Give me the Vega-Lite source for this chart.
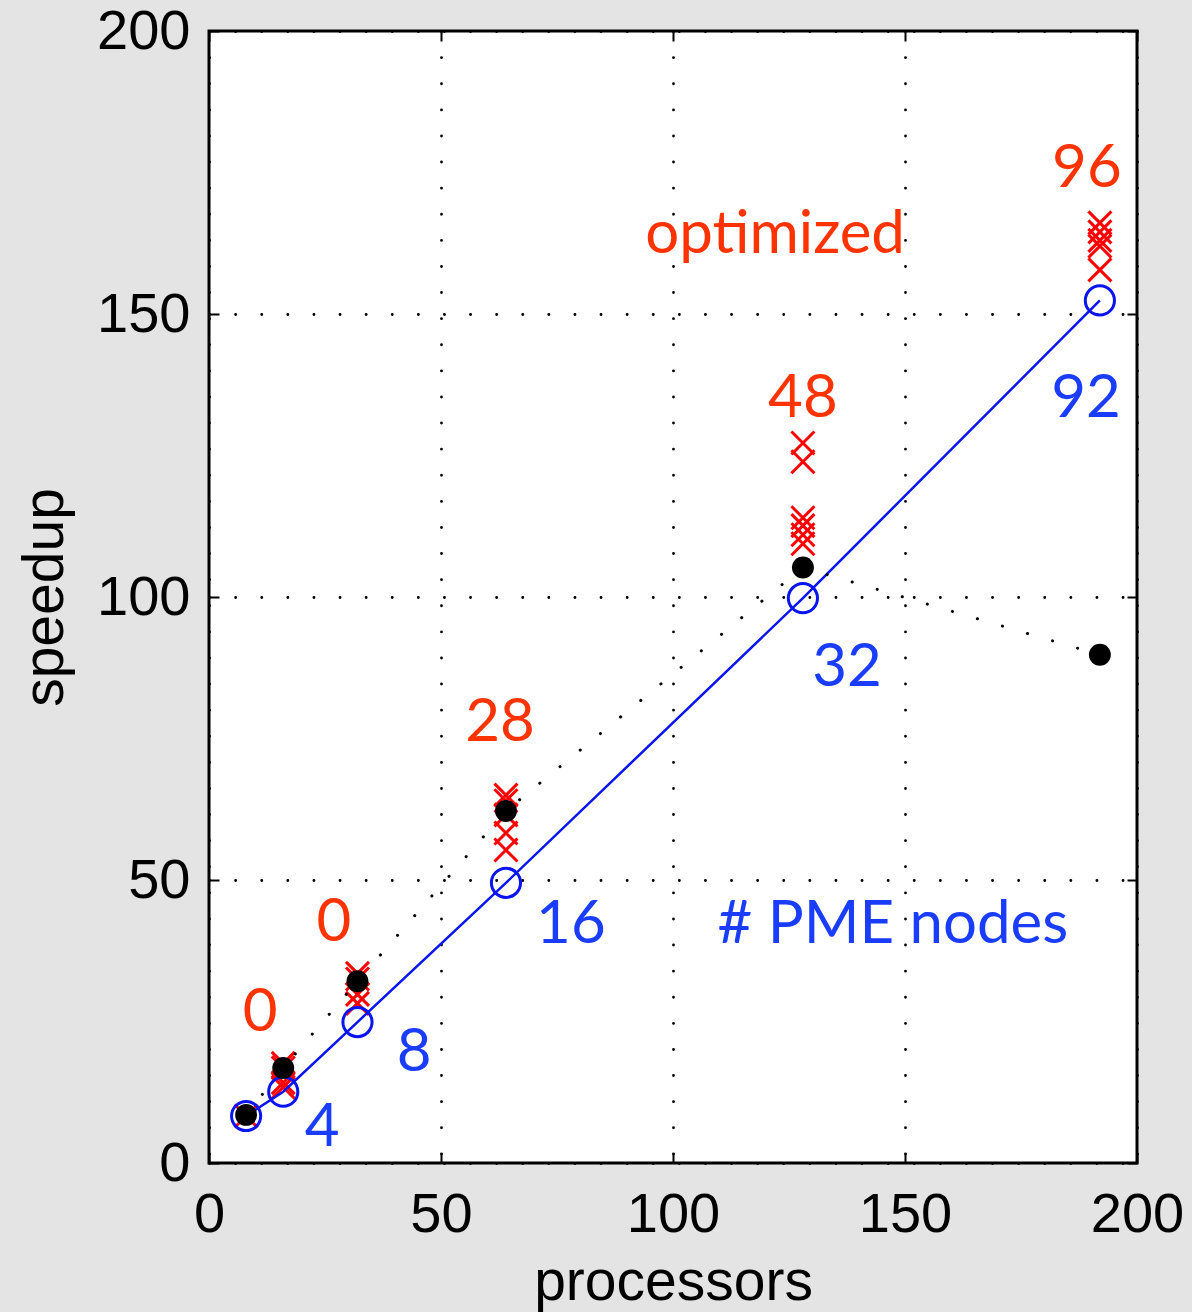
{
  "$schema": "https://vega.github.io/schema/vega-lite/v6.json",
  "width": 928,
  "height": 1132,
  "autosize": "none",
  "padding": {"left": 209, "top": 31, "right": 55, "bottom": 149},
  "background": "#e4e4e4",
  "config": {
    "view": {"fill": "#ffffff", "stroke": "#000000", "strokeWidth": 3},
    "axis": {
      "labelFont": "Liberation Sans",
      "labelFontSize": 56,
      "labelColor": "#000000",
      "titleFont": "Liberation Sans",
      "titleFontSize": 57,
      "titleFontWeight": "normal",
      "titleColor": "#000000",
      "domain": false,
      "tickColor": "#000000",
      "tickWidth": 2,
      "tickSize": -10,
      "gridColor": "#000000",
      "gridWidth": 2.8,
      "gridOpacity": 1,
      "gridDash": [0.1, 26],
      "gridCap": "round"
    }
  },
  "datasets": {
    "measured": [
      {"processors": 8, "speedup": 8.5},
      {"processors": 16, "speedup": 16.8},
      {"processors": 32, "speedup": 32.1},
      {"processors": 64, "speedup": 62.2},
      {"processors": 128, "speedup": 105.2},
      {"processors": 192, "speedup": 89.8}
    ],
    "pme": [
      {"processors": 8, "speedup": 8.3},
      {"processors": 16, "speedup": 12.6},
      {"processors": 32, "speedup": 24.9},
      {"processors": 64, "speedup": 49.5},
      {"processors": 128, "speedup": 99.8},
      {"processors": 192, "speedup": 152.4}
    ],
    "optimized": [
      {"processors": 8, "speedup": 8.3},
      {"processors": 16, "speedup": 17.6},
      {"processors": 16, "speedup": 16.8},
      {"processors": 16, "speedup": 14.2},
      {"processors": 16, "speedup": 13.4},
      {"processors": 32, "speedup": 33.5},
      {"processors": 32, "speedup": 32.5},
      {"processors": 32, "speedup": 29.8},
      {"processors": 32, "speedup": 28.2},
      {"processors": 64, "speedup": 65.0},
      {"processors": 64, "speedup": 64.0},
      {"processors": 64, "speedup": 61.5},
      {"processors": 64, "speedup": 58.3},
      {"processors": 64, "speedup": 55.3},
      {"processors": 128, "speedup": 127.2},
      {"processors": 128, "speedup": 123.9},
      {"processors": 128, "speedup": 114.0},
      {"processors": 128, "speedup": 112.6},
      {"processors": 128, "speedup": 111.0},
      {"processors": 128, "speedup": 109.4},
      {"processors": 192, "speedup": 166.1},
      {"processors": 192, "speedup": 164.5},
      {"processors": 192, "speedup": 163.0},
      {"processors": 192, "speedup": 162.0},
      {"processors": 192, "speedup": 157.8}
    ],
    "labels": [
      {"processors": 189.2, "speedup": 172.4, "text": "96", "group": "optimized"},
      {"processors": 122.0, "speedup": 160.8, "text": "optimized", "group": "optimized"},
      {"processors": 128.0, "speedup": 131.8, "text": "48", "group": "optimized"},
      {"processors": 62.7, "speedup": 74.6, "text": "28", "group": "optimized"},
      {"processors": 26.9, "speedup": 39.2, "text": "0", "group": "optimized"},
      {"processors": 11.0, "speedup": 23.3, "text": "0", "group": "optimized"},
      {"processors": 189.0, "speedup": 131.8, "text": "92", "group": "pme"},
      {"processors": 137.5, "speedup": 84.3, "text": "32", "group": "pme"},
      {"processors": 78.0, "speedup": 38.9, "text": "16", "group": "pme"},
      {"processors": 147.4, "speedup": 38.9, "text": "# PME nodes", "group": "pme"},
      {"processors": 44.2, "speedup": 16.3, "text": "8", "group": "pme"},
      {"processors": 24.4, "speedup": 3.0, "text": "4", "group": "pme"}
    ]
  },
  "resolve": {"axis": {"x": "independent", "y": "independent"}},
  "layer": [
    {
      "data": {"name": "optimized"},
      "mark": {"type": "point", "shape": "M-1,-1L1,1M-1,1L1,-1", "filled": false, "stroke": "#ff0000", "strokeWidth": 3, "size": 529, "opacity": 1},
      "encoding": {
        "x": {"field": "processors", "type": "quantitative", "scale": {"domain": [0, 200], "nice": false, "zero": false},
          "axis": {"orient": "bottom", "values": [0, 50, 100, 150, 200], "grid": true, "labelPadding": 34, "labelFlush": false, "title": "processors", "titlePadding": 12}},
        "y": {"field": "speedup", "type": "quantitative", "scale": {"domain": [0, 200], "nice": false, "zero": false},
          "axis": {"orient": "left", "values": [0, 50, 100, 150, 200], "grid": true, "labelPadding": 29, "labelFlush": false, "title": "speedup", "titlePadding": 22}}
      }
    },
    {
      "data": {"name": "pme"},
      "mark": {"type": "line", "color": "#0a14ee", "strokeWidth": 2.5},
      "encoding": {
        "x": {"field": "processors", "type": "quantitative",
          "axis": {"orient": "top", "values": [0, 50, 100, 150, 200], "labels": false, "grid": false, "title": null}},
        "y": {"field": "speedup", "type": "quantitative",
          "axis": {"orient": "right", "values": [0, 50, 100, 150, 200], "labels": false, "grid": false, "title": null}}
      }
    },
    {
      "data": {"name": "pme"},
      "mark": {"type": "point", "shape": "circle", "filled": false, "stroke": "#0a14ee", "strokeWidth": 3, "size": 850, "opacity": 1},
      "encoding": {
        "x": {"field": "processors", "type": "quantitative", "axis": null},
        "y": {"field": "speedup", "type": "quantitative", "axis": null}
      }
    },
    {
      "data": {"name": "measured"},
      "mark": {"type": "line", "color": "#000000", "strokeWidth": 3, "strokeDash": [0.1, 26], "strokeCap": "round"},
      "encoding": {
        "x": {"field": "processors", "type": "quantitative", "axis": null},
        "y": {"field": "speedup", "type": "quantitative", "axis": null}
      }
    },
    {
      "data": {"name": "measured"},
      "mark": {"type": "point", "shape": "circle", "filled": true, "fill": "#000000", "size": 480, "opacity": 1},
      "encoding": {
        "x": {"field": "processors", "type": "quantitative", "axis": null},
        "y": {"field": "speedup", "type": "quantitative", "axis": null}
      }
    },
    {
      "data": {"name": "labels"},
      "mark": {"type": "text", "font": "Lato", "fontSize": 60, "align": "center", "baseline": "alphabetic"},
      "encoding": {
        "x": {"field": "processors", "type": "quantitative", "axis": null},
        "y": {"field": "speedup", "type": "quantitative", "axis": null},
        "text": {"field": "text"},
        "color": {"field": "group", "type": "nominal", "legend": null,
          "scale": {"domain": ["optimized", "pme"], "range": ["#ff3300", "#1a3cff"]}}
      }
    }
  ]
}
